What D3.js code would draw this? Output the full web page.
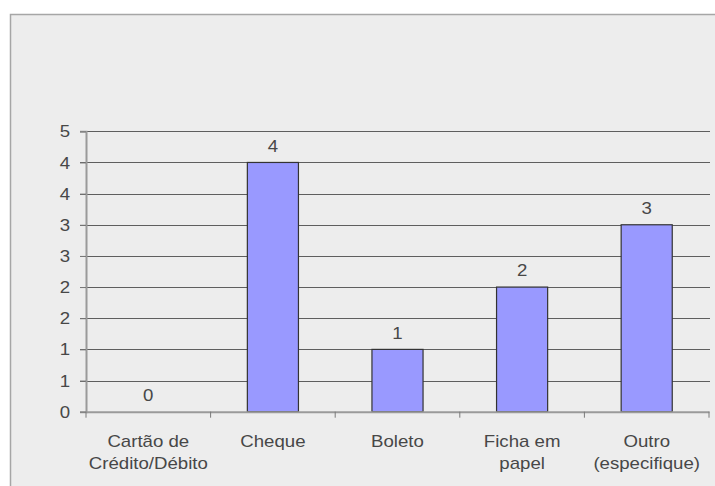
<!DOCTYPE html>
<html>
<head>
<meta charset="utf-8">
<script src="https://cdn.jsdelivr.net/npm/d3@7"></script>
<style>
  html, body { margin: 0; padding: 0; background: #ffffff; }
  svg { display: block; }
  text { font-family: "Liberation Sans", Arial, sans-serif; fill: #474747; }
</style>
</head>
<body>
<svg id="chart" width="715" height="486"></svg>
<script>
// Payment methods and number of answers for each
const categories = [
  ["Cartão de", "Crédito/Débito"],
  ["Cheque"],
  ["Boleto"],
  ["Ficha em", "papel"],
  ["Outro", "(especifique)"]
];
const values = [0, 4, 1, 2, 3];
// Axis runs in half steps; labels are shown rounded to whole numbers
const tickValues = [0, 0.5, 1, 1.5, 2, 2.5, 3, 3.5, 4, 4.5];
const tickLabels = ["0", "1", "1", "2", "2", "3", "3", "4", "4", "5"];

const svg = d3.select("#chart");
const W = 715, H = 486;
const plot = { left: 86, right: 709, top: 131.3, bottom: 411.7 };
const stretch = 1.18; // wide lettering

// chart area frame
svg.append("rect").attr("x", 10.5).attr("y", 14.5)
  .attr("width", W + 10).attr("height", H + 10)
  .attr("fill", "#ededed").attr("stroke", "#a6a6a6").attr("stroke-width", 1.5);

const keys = categories.map(c => c.join(" "));
const x = d3.scaleBand().domain(keys).range([plot.left, plot.right])
  .paddingInner(0.59).paddingOuter(0.295);
const y = d3.scaleLinear().domain([0, 4.5]).range([plot.bottom, plot.top]);

function wideText(sel, tx, ty) {
  return sel.attr("transform", `translate(${tx},${ty}) scale(${stretch},1)`);
}

// horizontal gridlines
svg.append("g").selectAll("line").data(tickValues.filter(v => v > 0)).join("line")
  .attr("x1", plot.left - 6).attr("x2", plot.right + 1)
  .attr("y1", d => Math.round(y(d)) + 0.5).attr("y2", d => Math.round(y(d)) + 0.5)
  .attr("stroke", "#5e5e5e").attr("stroke-width", 1);

// y axis
const yAxis = d3.axisLeft(y).tickValues(tickValues)
  .tickFormat((d, i) => tickLabels[i]).tickSize(6).tickPadding(10);
const gy = svg.append("g").attr("transform", `translate(${plot.left},0)`).call(yAxis);
gy.select(".domain").attr("stroke", "#9a9a9a").attr("stroke-width", 2);
gy.selectAll(".tick line").attr("stroke", "#7a7a7a");
gy.selectAll(".tick text").each(function () {
  const t = d3.select(this);
  t.attr("x", null).attr("dy", null).attr("text-anchor", "end")
   .style("font-size", "15.8px").attr("fill", "#474747");
  wideText(t, -16, 5.6);
});

// bars
svg.append("g").selectAll("rect").data(values).join("rect")
  .attr("x", (d, i) => x(keys[i]))
  .attr("width", x.bandwidth())
  .attr("y", d => y(d))
  .attr("height", d => y(0) - y(d))
  .attr("fill", "#9999ff").attr("stroke", "#333333").attr("stroke-width", 1.2)
  .attr("display", d => d > 0 ? null : "none");

// x axis
const step = x.step();
const xAxis = d3.axisBottom(x).tickSize(0).tickFormat("");
const gx = svg.append("g").attr("transform", `translate(0,${plot.bottom})`).call(xAxis);
gx.select(".domain").attr("stroke", "#9a9a9a").attr("stroke-width", 2);
svg.append("g").selectAll("line")
  .data(d3.range(keys.length + 1))
  .join("line")
  .attr("x1", i => plot.left + i * step).attr("x2", i => plot.left + i * step)
  .attr("y1", plot.bottom).attr("y2", plot.bottom + 6)
  .attr("stroke", "#7a7a7a");

// category labels
categories.forEach((lines, i) => {
  const cx = x(keys[i]) + x.bandwidth() / 2;
  lines.forEach((ln, j) => {
    const t = svg.append("text").text(ln).attr("text-anchor", "middle")
      .style("font-size", "15.8px");
    wideText(t, cx, 446.5 + j * 22.7);
  });
});

// value labels
svg.append("g").selectAll("text").data(values).join("text")
  .text(d => d).attr("text-anchor", "middle").style("font-size", "15.8px")
  .each(function (d, i) {
    wideText(d3.select(this), x(keys[i]) + x.bandwidth() / 2, y(d) - 10.6);
  });
</script>
</body>
</html>
